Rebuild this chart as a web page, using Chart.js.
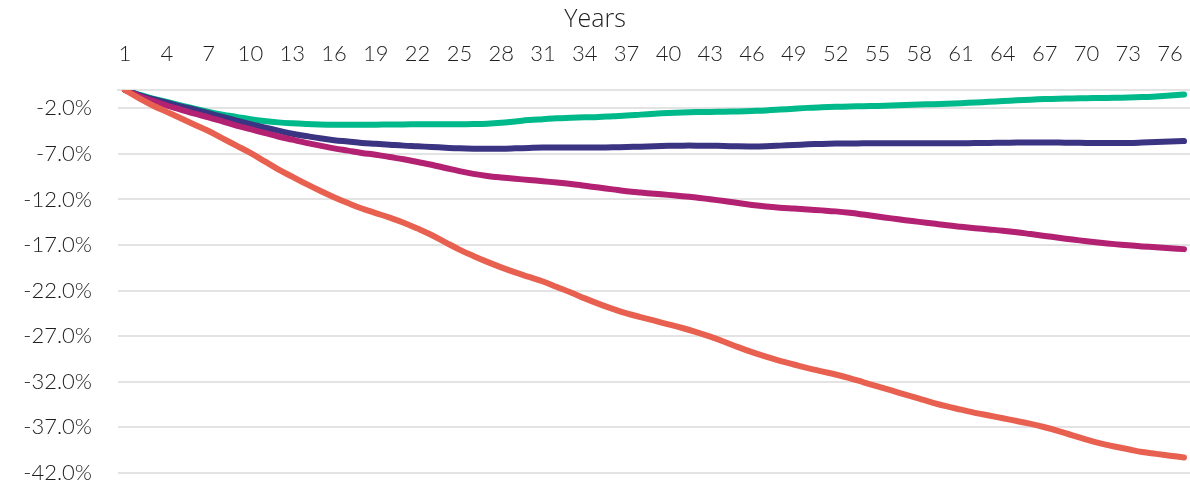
<!DOCTYPE html>
<html>
<head>
<meta charset="utf-8">
<script src="https://cdn.jsdelivr.net/npm/chart.js@4.4.1/dist/chart.umd.min.js"></script>
<style>
  html, body { margin: 0; padding: 0; background: #ffffff; }
  #wrap { width: 1190px; height: 482px; }
</style>
</head>
<body>
<div id="wrap"><canvas id="chart" width="1190" height="482"></canvas></div>
<script>
// Years along the top axis
const years = [1,2,3,4,5,6,7,8,9,10,11,12,13,14,15,16,17,18,19,20,
  21,22,23,24,25,26,27,28,29,30,31,32,33,34,35,36,37,38,39,40,
  41,42,43,44,45,46,47,48,49,50,51,52,53,54,55,56,57,58,59,60,
  61,62,63,64,65,66,67,68,69,70,71,72,73,74,75,76,77];

// Labelled years (every third year)
const yearTicks = [1,4,7,10,13,16,19,22,25,28,31,34,37,40,43,46,49,52,55,58,61,64,67,70,73,76];

// Percentage gridlines
const pctTicks = [-42,-37,-32,-27,-22,-17,-12,-7,-2];

// Cumulative change, % (one value per year)
const greenSeries = [0,-0.5,-0.95,-1.3,-1.7,-2.05,-2.4,-2.7,-2.95,-3.2,
  -3.4,-3.55,-3.65,-3.72,-3.77,-3.8,-3.8,-3.8,-3.8,-3.78,
  -3.77,-3.76,-3.76,-3.76,-3.76,-3.74,-3.7,-3.6,-3.45,-3.3,
  -3.2,-3.1,-3.05,-3.0,-2.95,-2.87,-2.8,-2.7,-2.6,-2.52,
  -2.46,-2.42,-2.4,-2.38,-2.35,-2.3,-2.24,-2.15,-2.05,-1.96,
  -1.9,-1.85,-1.81,-1.78,-1.75,-1.7,-1.65,-1.6,-1.55,-1.5,
  -1.44,-1.37,-1.3,-1.21,-1.13,-1.06,-1.0,-0.96,-0.93,-0.9,
  -0.88,-0.86,-0.83,-0.78,-0.7,-0.6,-0.5];

const navySeries = [0,-0.55,-1.0,-1.4,-1.8,-2.15,-2.55,-2.95,-3.35,-3.75,
  -4.1,-4.45,-4.8,-5.05,-5.3,-5.5,-5.65,-5.8,-5.9,-6.0,
  -6.1,-6.17,-6.25,-6.33,-6.4,-6.44,-6.45,-6.44,-6.4,-6.35,
  -6.31,-6.3,-6.3,-6.3,-6.3,-6.29,-6.26,-6.21,-6.16,-6.12,
  -6.1,-6.1,-6.11,-6.14,-6.18,-6.19,-6.16,-6.1,-6.03,-5.96,
  -5.91,-5.88,-5.86,-5.85,-5.85,-5.85,-5.85,-5.85,-5.85,-5.85,
  -5.84,-5.82,-5.8,-5.79,-5.77,-5.76,-5.76,-5.77,-5.79,-5.8,
  -5.81,-5.81,-5.8,-5.76,-5.71,-5.65,-5.6];

const magentaSeries = [0,-0.65,-1.2,-1.7,-2.15,-2.6,-3.0,-3.45,-3.9,-4.3,
  -4.7,-5.1,-5.45,-5.8,-6.1,-6.4,-6.65,-6.9,-7.1,-7.35,
  -7.6,-7.9,-8.2,-8.55,-8.9,-9.2,-9.43,-9.6,-9.74,-9.86,
  -10.0,-10.15,-10.3,-10.5,-10.7,-10.9,-11.1,-11.25,-11.38,-11.5,
  -11.64,-11.8,-11.97,-12.17,-12.4,-12.6,-12.77,-12.9,-13.0,-13.1,
  -13.2,-13.31,-13.46,-13.66,-13.88,-14.08,-14.28,-14.46,-14.65,-14.84,
  -15.0,-15.15,-15.29,-15.43,-15.6,-15.8,-16.0,-16.2,-16.4,-16.58,
  -16.75,-16.9,-17.03,-17.15,-17.25,-17.35,-17.45];

const redSeries = [0,-0.9,-1.7,-2.4,-3.1,-3.8,-4.5,-5.3,-6.1,-6.9,
  -7.8,-8.7,-9.5,-10.3,-11.05,-11.75,-12.4,-13.0,-13.5,-14.0,
  -14.55,-15.2,-15.9,-16.7,-17.5,-18.2,-18.85,-19.45,-20.0,-20.5,
  -21.0,-21.6,-22.2,-22.85,-23.45,-24.0,-24.5,-24.9,-25.3,-25.7,
  -26.1,-26.55,-27.05,-27.6,-28.2,-28.75,-29.25,-29.7,-30.1,-30.5,
  -30.85,-31.2,-31.6,-32.05,-32.5,-32.95,-33.4,-33.85,-34.3,-34.7,
  -35.05,-35.4,-35.7,-36.0,-36.3,-36.62,-36.98,-37.4,-37.88,-38.33,
  -38.75,-39.1,-39.4,-39.7,-39.9,-40.1,-40.3];

const tickFont = { family: 'Lato, "Open Sans", sans-serif', size: 22, weight: '300' };
const titleFont = { family: '"Open Sans", Lato, sans-serif', size: 25, weight: '300' };
const textColor = '#1f1f1f';
const gridColor = '#e3e3e3';

function toPoints(series) {
  return years.map((yr, i) => ({ x: yr, y: series[i] }));
}

function lineSet(label, series, color, order) {
  return {
    label,
    data: toPoints(series),
    borderColor: color,
    backgroundColor: color,
    borderWidth: 6,
    borderCapStyle: 'round',
    borderJoinStyle: 'round',
    pointRadius: 0,
    pointHoverRadius: 0,
    tension: 0.4,
    fill: false,
    order
  };
}

// Fixed axis sizes with no extra label overhang padding
function fixBox(size, dim) {
  return (scale) => {
    scale[dim] = size;
    scale.paddingLeft = 0;
    scale.paddingRight = 0;
    scale.paddingTop = 0;
    scale.paddingBottom = 0;
  };
}

new Chart(document.getElementById('chart'), {
  type: 'line',
  data: {
    datasets: [
      lineSet('Green', greenSeries, '#00B98B', 4),
      lineSet('Navy', navySeries, '#3B3482', 3),
      lineSet('Magenta', magentaSeries, '#B22172', 2),
      lineSet('Red', redSeries, '#E86150', 1)
    ]
  },
  options: {
    responsive: false,
    animation: false,
    devicePixelRatio: 1,
    layout: { padding: { left: 0, right: 0, top: 0, bottom: 9 } },
    plugins: {
      legend: { display: false },
      tooltip: { enabled: false },
      title: {
        display: true,
        text: 'Years',
        color: textColor,
        font: titleFont,
        fullSize: true,
        padding: { top: 5, bottom: 0 }
      }
    },
    scales: {
      x: {
        type: 'linear',
        position: 'top',
        min: 0.5,
        max: 77.43,
        afterBuildTicks: (scale) => { scale.ticks = yearTicks.map(v => ({ value: v })); },
        afterFit: fixBox(55, 'height'),
        grid: { display: false, drawTicks: false },
        border: { display: true, color: gridColor, width: 2 },
        ticks: {
          autoSkip: false,
          maxRotation: 0,
          padding: 23,
          color: textColor,
          font: tickFont,
          callback: (v) => String(v)
        }
      },
      y: {
        min: -42,
        max: 0,
        afterBuildTicks: (scale) => { scale.ticks = pctTicks.map(v => ({ value: v })); },
        afterFit: fixBox(118, 'width'),
        grid: { color: gridColor, lineWidth: 2, drawTicks: false },
        border: { display: false },
        ticks: {
          padding: 26,
          color: textColor,
          font: tickFont,
          callback: (v) => v.toFixed(1) + '%'
        }
      }
    }
  }
});
</script>
</body>
</html>
